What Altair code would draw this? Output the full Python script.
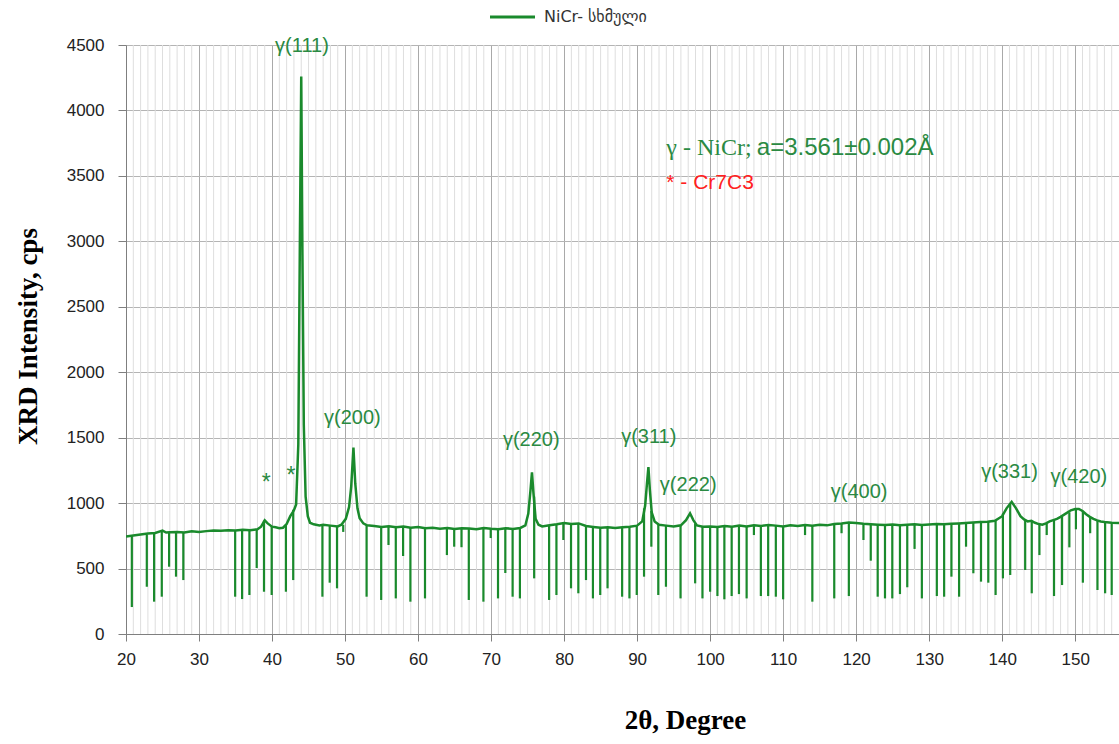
import altair as alt
import pandas as pd

# ---- profile (2θ, intensity) ----
two_theta = [20, 21, 22, 23, 24, 25, 25.5, 26, 27, 28, 29, 30, 31, 32, 33, 34, 35, 36, 37, 38,
             38.5, 39, 39.4, 40, 40.5, 41, 41.5, 42, 42.5, 43, 43.3, 43.6, 43.8, 44.0, 44.15,
             44.35, 44.6, 44.9, 45.2, 45.7, 46.5, 47, 48, 49, 49.5, 50.1, 50.55, 50.85, 51.15,
             51.4, 51.7, 52.0, 52.5, 53, 54, 55, 56, 57, 58, 59, 60, 61, 62, 63, 64, 65, 66, 67,
             68, 69, 70, 71, 72, 73, 74, 74.7, 75.1, 75.4, 75.6, 75.8, 76.1, 76.5, 77, 78, 79,
             80, 81, 82, 83, 84, 85, 86, 87, 88, 89, 90, 90.7, 91.1, 91.35, 91.55, 91.75, 92.0,
             92.4, 93, 94, 95, 96, 96.7, 97.25, 97.7, 98.2, 99, 100, 101, 102, 103, 104, 105,
             106, 107, 108, 109, 110, 111, 112, 113, 114, 115, 116, 117, 118, 119, 120, 121,
             122, 123, 124, 125, 126, 127, 128, 129, 130, 131, 132, 133, 134, 135, 136, 137,
             138, 139, 140, 140.6, 141.3, 141.9, 142.5, 143, 143.5, 144, 144.5, 145, 145.5, 146,
             146.5, 147, 147.5, 148, 148.7, 149.4, 150.0, 150.5, 151, 151.5, 152, 152.5, 153,
             153.5, 154, 155, 156]
intensity = [745, 752, 760, 768, 772, 790, 775, 778, 780, 775, 785, 780, 786, 790, 788, 792, 790,
             796, 792, 800, 820, 868, 845, 820, 815, 808, 812, 840, 900, 945, 990, 1450, 2900,
             4260, 3000, 1600, 1050, 900, 850, 838, 830, 835, 828, 822, 835, 880, 970, 1130,
             1425, 1150, 960, 885, 845, 830, 825, 818, 824, 815, 822, 812, 818, 808, 812, 805,
             810, 802, 808, 806, 800, 810, 804, 800, 808, 803, 810, 830, 920, 1100, 1235, 1080,
             880, 835, 822, 830, 838, 848, 840, 845, 825, 818, 812, 815, 810, 816, 820, 828,
             860, 980, 1150, 1275, 1100, 930, 860, 835, 828, 822, 830, 870, 922, 870, 830, 820,
             822, 818, 825, 820, 828, 822, 830, 826, 832, 828, 822, 830, 826, 832, 828, 835,
             830, 840, 845, 852, 848, 842, 838, 835, 832, 836, 830, 834, 838, 832, 836, 840,
             838, 842, 845, 848, 852, 855, 858, 865, 900, 960, 1010, 960, 900, 875, 860, 865,
             850, 840, 835, 845, 860, 870, 880, 895, 920, 945, 955, 955, 940, 915, 895, 880,
             868, 860, 855, 850, 848]

# ---- downward spikes: position, lowest value, level where they leave the trace ----
spike_x = [20.8, 22.85, 23.85, 24.9, 25.9, 26.85, 27.85, 34.95, 35.9, 36.9, 37.9, 38.9, 39.95,
           41.9, 42.9, 46.9, 47.9, 48.9, 49.75, 52.95, 54.95, 55.95, 56.95, 57.95, 58.95,
           60.95, 63.95, 64.95, 65.95, 66.95, 68.95, 69.95, 70.95, 71.95, 72.95, 73.95, 75.9,
           77.95, 78.95, 79.9, 80.95, 81.95, 83.0, 83.95, 84.95, 85.95, 87.95, 88.95, 89.95,
           90.95, 91.95, 92.9, 93.95, 95.95, 97.95, 98.95, 100.0, 101.0, 101.95, 102.95,
           103.95, 105.0, 106.0, 106.95, 107.95, 109.0, 110.0, 113.0, 114.0, 117.0, 118.0,
           119.0, 121.0, 122.0, 122.95, 123.95, 124.95, 126.0, 127.0, 128.0, 129.0, 131.05,
           132.05, 133.05, 134.1, 135.05, 136.05, 137.1, 138.1, 139.1, 140.1, 141.1, 143.15,
           144.05, 145.1, 146.1, 147.1, 148.2, 149.2, 150.1, 151.05, 152.05, 153.05, 154.1,
           155.0]
spike_low = [206, 361, 247, 285, 514, 438, 412, 285, 267, 298, 504, 323, 298, 323, 412, 285,
             392, 349, 780, 285, 260, 680, 272, 596, 247, 272, 603, 667, 663, 260, 247, 733, 272,
             466, 285, 272, 425, 260, 298, 718, 349, 311, 412, 272, 298, 349, 285, 272, 298, 438,
             667, 298, 361, 272, 387, 272, 323, 290, 265, 290, 305, 272, 756, 290, 290, 285, 265,
             756, 247, 272, 770, 290, 718, 560, 285, 272, 272, 305, 357, 650, 272, 290, 285, 438,
             285, 667, 464, 400, 392, 298, 425, 451, 489, 311, 603, 756, 290, 374, 662, 800, 392,
             770, 336, 311, 298]
spike_top = [750, 762, 770, 790, 778, 780, 776, 790, 795, 792, 800, 866, 820, 835, 950, 832,
             830, 823, 835, 830, 818, 824, 815, 822, 812, 808, 810, 802, 808, 806, 810, 804, 800,
             808, 803, 810, 1050, 830, 838, 848, 840, 845, 825, 818, 812, 815, 816, 820, 828,
             960, 940, 835, 828, 830, 845, 820, 822, 818, 825, 820, 828, 822, 830, 826, 832, 828,
             822, 832, 828, 840, 845, 852, 842, 838, 835, 832, 836, 830, 834, 838, 832, 840, 838,
             842, 845, 848, 852, 855, 858, 865, 920, 1000, 870, 865, 840, 845, 870, 897, 930,
             955, 940, 895, 868, 855, 850]

# ---- peak labels ----
label_text = ["γ(111)", "γ(200)", "γ(220)", "γ(311)", "γ(222)", "γ(400)", "γ(331)", "γ(420)"]
label_x = [44.1, 51.0, 75.5, 91.6, 97.0, 120.4, 141.0, 150.5]
label_y = [4492, 1650, 1482, 1505, 1138, 1085, 1238, 1200]

star_x = [39.2, 42.6]
star_y = [1150, 1210]

GREEN = "#1a8a2c"
TEXT_GREEN = "#2a8a42"

profile = pd.DataFrame({"two_theta": two_theta, "intensity": intensity})
spikes = pd.DataFrame({"x": spike_x, "low": spike_low, "top": spike_top})
labels = pd.DataFrame({"x": label_x, "y": label_y, "t": label_text})
stars = pd.DataFrame({"x": star_x, "y": star_y, "t": ["*"] * len(star_x)})
minor = pd.DataFrame({"x": [v for v in range(21, 156) if v % 10 != 0]})

xscale = alt.Scale(domain=[20, 156], nice=False, zero=False)
yscale = alt.Scale(domain=[0, 4500], nice=False)

xaxis = alt.Axis(values=list(range(20, 151, 10)), grid=True, gridColor="#a9a9a9",
                 gridWidth=1, tickColor="#7f7f7f", tickSize=7, domainColor="#7f7f7f",
                 labelFont="Liberation Sans Narrow, Liberation Sans, sans-serif",
                 labelFontSize=17, labelColor="#222222", labelPadding=10, labelFlush=False,
                 format="d",
                 title="2θ, Degree", titleFont="Liberation Serif", titleFontSize=27,
                 titleFontWeight="bold", titleColor="#000000", titleX=559, titleY=86,
                 titleBaseline="middle", titleAlign="center")
yaxis = alt.Axis(values=list(range(0, 4501, 500)), grid=True, gridColor="#b4b4b4",
                 gridWidth=1, tickColor="#7f7f7f", tickSize=8, domainColor="#7f7f7f",
                 labelFont="Liberation Sans", labelFontSize=17, labelColor="#222222",
                 labelPadding=14, format="d",
                 title="XRD Intensity, cps", titleFont="Liberation Serif",
                 titleFontSize=27, titleFontWeight="bold", titleColor="#000000",
                 titleX=-98, titleY=291, titleAngle=-90, titleBaseline="middle",
                 titleAlign="center")


def X(field):
    return alt.X(field, type="quantitative", scale=xscale, axis=xaxis)


def Y(field):
    return alt.Y(field, type="quantitative", scale=yscale, axis=yaxis)


minor_layer = alt.Chart(minor).mark_rule(color="#dedede", strokeWidth=1).encode(x=X("x"))

line_layer = alt.Chart(profile).mark_line(color=GREEN, strokeWidth=2.5, clip=True).encode(
    x=X("two_theta"), y=Y("intensity"))

spike_layer = alt.Chart(spikes).mark_rule(color=GREEN, strokeWidth=2.2, clip=True).encode(
    x=X("x"), y=Y("low"), y2="top")

label_layer = alt.Chart(labels).mark_text(
    color=TEXT_GREEN, font="Liberation Sans", fontSize=20, baseline="middle", align="center"
).encode(x=X("x"), y=Y("y"), text="t")

star_layer = alt.Chart(stars).mark_text(
    color=TEXT_GREEN, font="Liberation Sans", fontSize=23, baseline="middle", align="center"
).encode(x=X("x"), y=Y("y"), text="t")

note1a = alt.Chart(pd.DataFrame({"x": [94.0], "y": [3713], "t": ["γ - NiCr;"]})).mark_text(
    color=TEXT_GREEN, font="Liberation Serif", fontSize=24, baseline="middle", align="left"
).encode(x=X("x"), y=Y("y"), text="t")
note1b = alt.Chart(pd.DataFrame({"x": [106.4], "y": [3713], "t": ["a=3.561±0.002Å"]})).mark_text(
    color=TEXT_GREEN, font="Liberation Sans", fontSize=24, baseline="middle", align="left"
).encode(x=X("x"), y=Y("y"), text="t")
note2 = alt.Chart(pd.DataFrame({"x": [94.0], "y": [3446], "t": ["* - Cr7C3"]})).mark_text(
    color="#ff2020", font="Liberation Sans", fontSize=21, baseline="middle", align="left"
).encode(x=X("x"), y=Y("y"), text="t")

legend_line = alt.Chart(pd.DataFrame({"a": [0]})).mark_rule(color=GREEN, strokeWidth=3).encode(
    x=alt.value(364), x2=alt.value(409), y=alt.value(-28))
legend_text = alt.Chart(pd.DataFrame({"a": [0]})).mark_text(
    text="NiCr- სხმული", font="DejaVu Sans", fontSize=16, color="#333333",
    align="left", baseline="middle"
).encode(x=alt.value(418), y=alt.value(-28))

chart = alt.layer(
    minor_layer, line_layer, spike_layer, label_layer, star_layer,
    note1a, note1b, note2, legend_line, legend_text
).properties(
    width=993, height=589,
    padding={"left": 126, "top": 45, "right": 0, "bottom": 110},
    autosize=alt.AutoSizeParams(type="none"),
    background="white",
).configure_view(stroke=None)

chart.save("out.html", embed_options={"renderer": "svg", "actions": False})
